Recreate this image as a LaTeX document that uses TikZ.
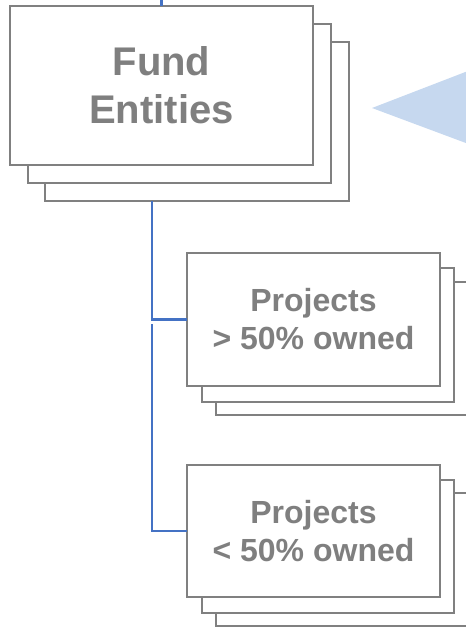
\documentclass[tikz,border=0pt]{standalone}
\usepackage{fontspec}
\setmainfont{Liberation Sans}
\definecolor{boxgray}{HTML}{808080}
\definecolor{txtgray}{HTML}{7F7F7F}
\definecolor{linkblue}{HTML}{4472C4}
\definecolor{arrowblue}{HTML}{C6D8EF}
\begin{document}
\begin{tikzpicture}[x=1pt,y=-1pt,
  sheet/.style={draw=boxgray,line width=1.4pt,fill=white,inner sep=0pt,outer sep=0pt},
  bigtxt/.style={font=\fontsize{40}{48}\selectfont\bfseries,text=txtgray,align=center},
  smalltxt/.style={font=\fontsize{32}{38}\selectfont\bfseries,text=txtgray,align=center},
  link/.style={draw=linkblue,line width=2.2pt}]
\useasboundingbox (0,0) rectangle (466,627);
\clip (0,0) rectangle (466,627);
% Fund Entities stack
\node[sheet,minimum width=304pt,minimum height=159pt] (f3) at (197,121.5) {};
\node[sheet,minimum width=303pt,minimum height=159pt] (f2) at (179.5,103.5) {};
\node[sheet,minimum width=303pt,minimum height=159pt,bigtxt] (f1) at (161.5,85.5) {Fund\\Entities};
% Projects > 50%
\node[sheet,minimum width=260pt,minimum height=133pt] (a3) at (346,348.5) {};
\node[sheet,minimum width=252pt,minimum height=134pt] (a2) at (328,335) {};
\node[sheet,minimum width=253pt,minimum height=133pt,smalltxt] (a1) at (313.5,319.5) {Projects\\> 50\% owned};
% Projects < 50%
\node[sheet,minimum width=260pt,minimum height=133pt] (b3) at (346,559.5) {};
\node[sheet,minimum width=252pt,minimum height=133pt] (b2) at (328,546.5) {};
\node[sheet,minimum width=253pt,minimum height=132pt,smalltxt] (b1) at (313.5,531) {Projects\\< 50\% owned};
% connectors
\coordinate (top) at (161.5,-2);
\draw[link] (top) -- (f1.north);
\coordinate (s1) at (152,201);
\coordinate (s2) at (152,324);
\draw[link] (s1) |- (a1.west);
\draw[link] (s2) |- (b1.west);
% pointer triangle
\fill[arrowblue] (372,108) -- (490,62.5) -- (490,152) -- cycle;
\end{tikzpicture}
\end{document}
